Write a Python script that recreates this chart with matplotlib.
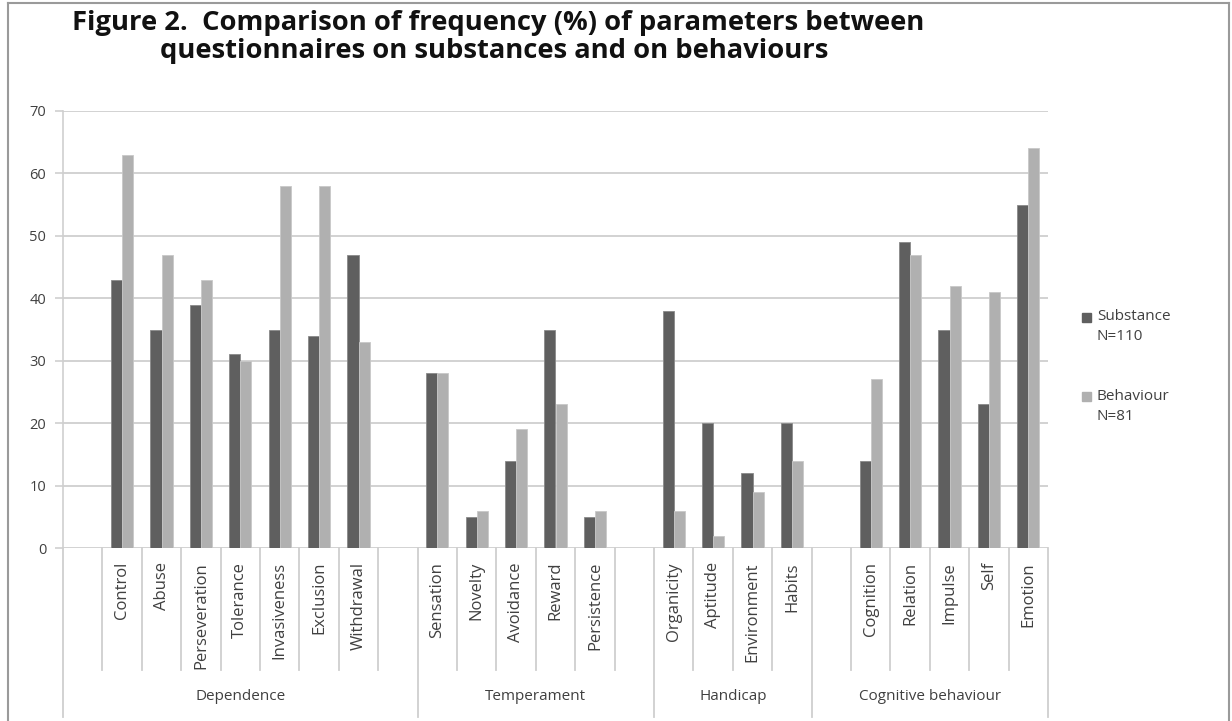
import numpy as np
import matplotlib
matplotlib.use("Agg")
import matplotlib.pyplot as plt
from matplotlib.lines import Line2D
from matplotlib.patches import Rectangle

# ---- data ----
groups = ["Dependence", "Temperament", "Handicap", "Cognitive behaviour"]
group_categories = [
    ["", "Control", "Abuse", "Perseveration", "Tolerance", "Invasiveness", "Exclusion", "Withdrawal", ""],
    ["Sensation", "Novelty", "Avoidance", "Reward", "Persistence", ""],
    ["Organicity", "Aptitude", "Environment", "Habits"],
    ["", "Cognition", "Relation", "Impulse", "Self", "Emotion"],
]
substance_values = {
    "Control": 43, "Abuse": 35, "Perseveration": 39, "Tolerance": 31, "Invasiveness": 35,
    "Exclusion": 34, "Withdrawal": 47,
    "Sensation": 28, "Novelty": 5, "Avoidance": 14, "Reward": 35, "Persistence": 5,
    "Organicity": 38, "Aptitude": 20, "Environment": 12, "Habits": 20,
    "Cognition": 14, "Relation": 49, "Impulse": 35, "Self": 23, "Emotion": 55,
}
behaviour_values = {
    "Control": 63, "Abuse": 47, "Perseveration": 43, "Tolerance": 30, "Invasiveness": 58,
    "Exclusion": 58, "Withdrawal": 33,
    "Sensation": 28, "Novelty": 6, "Avoidance": 19, "Reward": 23, "Persistence": 6,
    "Organicity": 6, "Aptitude": 2, "Environment": 9, "Habits": 14,
    "Cognition": 27, "Relation": 47, "Impulse": 42, "Self": 41, "Emotion": 64,
}
series_labels = [["Substance", "N=110"], ["Behaviour", "N=81"]]
yticks = [0, 10, 20, 30, 40, 50, 60, 70]

# ---- build flat category list ----
categories = [c for g in group_categories for c in g]
n = len(categories)
x = np.arange(n) + 0.5
sub = np.array([substance_values.get(c, np.nan) for c in categories], dtype=float)
beh = np.array([behaviour_values.get(c, np.nan) for c in categories], dtype=float)

FONT = "Open Sans"
dark = "#5f5f5f"
light = "#b0b0b0"
gridc = "#cfcfcf"
txtc = "#404040"

W, H = 1232, 721
fig = plt.figure(figsize=(W / 100, H / 100), dpi=100)
L, R, T, B = 63, 1048, 111, 548
ax = fig.add_axes([L / W, 1 - B / H, (R - L) / W, (B - T) / H])

bw = 0.28
ax.bar(x - bw / 2, sub, width=bw, color=dark, edgecolor="#8a8a8a", linewidth=0.6, zorder=3)
ax.bar(x + bw / 2, beh, width=bw, color=light, edgecolor="#c8c8c8", linewidth=0.6, zorder=3)

ax.set_xlim(0, n)
ax.set_ylim(0, 70)
ax.set_yticks(yticks)
ax.set_yticklabels([str(v) for v in yticks], fontfamily=FONT, fontsize=10.5, color=txtc)
ax.tick_params(axis="y", length=6, color=gridc, width=1.2, pad=6)
ax.set_xticks([])
for s in ["top", "right", "bottom"]:
    ax.spines[s].set_visible(False)
ax.spines["left"].set_color(gridc)
ax.spines["left"].set_linewidth(1.2)
for v in yticks:
    ax.axhline(v, color=gridc, linewidth=1.3, zorder=1)

# ---- category axis (two-level) ----
hpx = B - T
def yfrac(py):
    return -(py - B) / hpx

trans = ax.get_xaxis_transform()
short_bottom = yfrac(670)
long_bottom = yfrac(717)
group_edges = np.concatenate([[0], np.cumsum([len(g) for g in group_categories])])
for i in range(n + 1):
    bottom = long_bottom if i in group_edges else short_bottom
    ax.plot([i, i], [0, bottom], transform=trans, color=gridc, lw=1.3, clip_on=False)
for xi, c in zip(x, categories):
    if c:
        ax.text(xi, yfrac(562), c, transform=trans, rotation=90, ha="center", va="top",
                fontfamily=FONT, fontsize=12, color=txtc)
for gi, gname in enumerate(groups):
    mid = (group_edges[gi] + group_edges[gi + 1]) / 2
    ax.text(mid, yfrac(697), gname, transform=trans, ha="center", va="center",
            fontfamily=FONT, fontsize=11, color=txtc)

# ---- title ----
fig.text(498 / W, 1 - 23 / H, "Figure 2.  Comparison of frequency (%) of parameters between",
         ha="center", va="center", fontfamily=FONT, fontweight="bold", fontsize=19.7, color="#111111")
fig.text(494 / W, 1 - 51 / H, "questionnaires on substances and on behaviours",
         ha="center", va="center", fontfamily=FONT, fontweight="bold", fontsize=19.7, color="#111111")

# ---- legend (manual) ----
leg_items = [(dark, series_labels[0], 317), (light, series_labels[1], 396)]
for color, lines, ypx in leg_items:
    fig.add_artist(Rectangle(((1082) / W, 1 - (ypx + 5) / H), 9 / W, 9 / H,
                             transform=fig.transFigure, color=color))
    fig.text(1097 / W, 1 - ypx / H, lines[0], ha="left", va="center",
             fontfamily=FONT, fontsize=11, color=txtc)
    fig.text(1097 / W, 1 - (ypx + 20) / H, lines[1], ha="left", va="center",
             fontfamily=FONT, fontsize=11, color=txtc)

# ---- figure border ----
for (x0, y0, x1, y1) in [(8, 3, 8, 721), (8, 3, 1229, 3), (1229, 3, 1229, 721)]:
    fig.add_artist(Line2D([x0 / W, x1 / W], [1 - y0 / H, 1 - y1 / H], color="#9a9a9a", lw=1.5,
                          transform=fig.transFigure))

fig.savefig("out.png", dpi=100)
